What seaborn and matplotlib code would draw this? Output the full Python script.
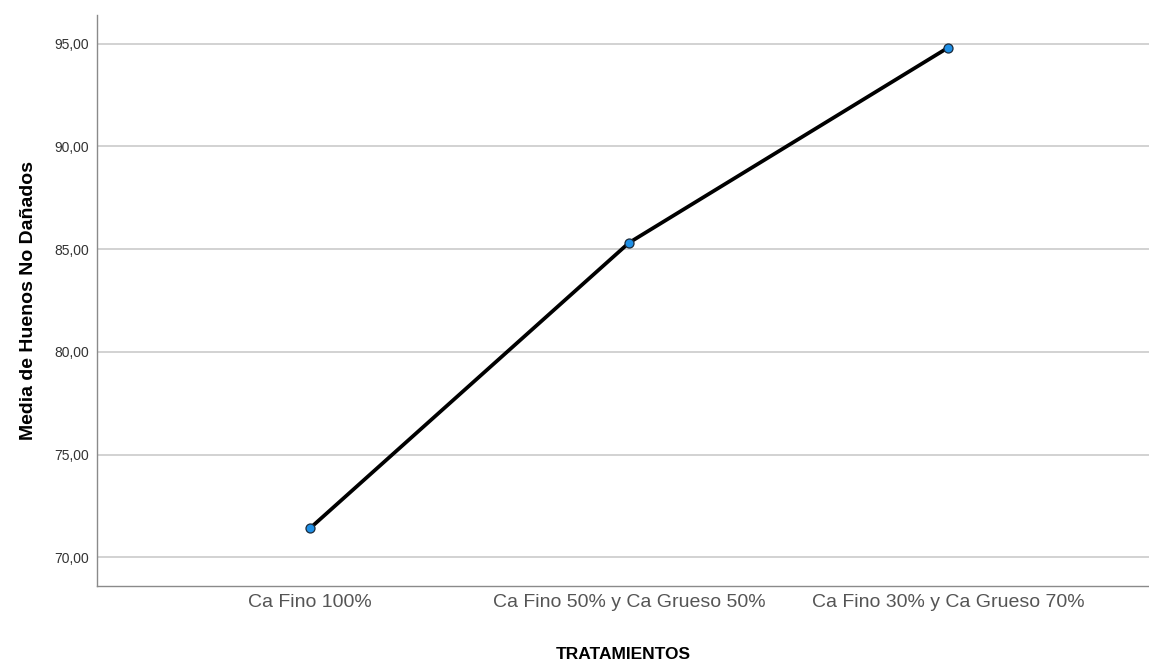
import matplotlib
matplotlib.use("Agg")
import matplotlib.pyplot as plt
import seaborn as sns
import pandas as pd
from matplotlib.ticker import FuncFormatter

# values
tratamientos = ["Ca Fino 100%", "Ca Fino 50% y Ca Grueso 50%", "Ca Fino 30% y Ca Grueso 70%"]
media_no_danados = [71.42, 85.31, 94.80]
y_ticks = [70, 75, 80, 85, 90, 95]

df = pd.DataFrame({"tratamiento": tratamientos, "media": media_no_danados})

sns.set_theme(style="white")
plt.rcParams["font.family"] = ["Liberation Sans", "DejaVu Sans"]

fig = plt.figure(figsize=(11.49, 6.61), dpi=100)
ax = fig.add_axes([0.0844, 0.1135, 0.9156, 0.8638])

sns.lineplot(data=df, x="tratamiento", y="media", ax=ax, color="black",
             linewidth=2.7, marker="o", markersize=6.5,
             markerfacecolor="#1E8FE6", markeredgecolor="#1b2a3a",
             markeredgewidth=0.9, sort=False)

ax.set_xlim(-0.668, 2.63)
ax.set_ylim(68.61, 96.39)
ax.set_yticks(y_ticks)
ax.yaxis.set_major_formatter(FuncFormatter(lambda v, p: f"{v:.2f}".replace(".", ",")))
ax.yaxis.grid(True, color="#cfcfcf", linewidth=1.3)
ax.set_axisbelow(True)

for side in ["top", "right"]:
    ax.spines[side].set_visible(False)
for side in ["left", "bottom"]:
    ax.spines[side].set_color("#8a8a8a")
    ax.spines[side].set_linewidth(1.0)

ax.tick_params(axis="x", length=0, labelsize=14, labelcolor="#555555", pad=6)
ax.tick_params(axis="y", length=0, labelsize=10, labelcolor="#333333", pad=6)

ax.set_xlabel("TRATAMIENTOS", fontsize=12.5, fontweight="bold", labelpad=26, color="black")
ax.set_ylabel("Media de Huenos No Dañados", fontsize=14, fontweight="bold", labelpad=12, color="black")

fig.savefig("out.png", dpi=100)
